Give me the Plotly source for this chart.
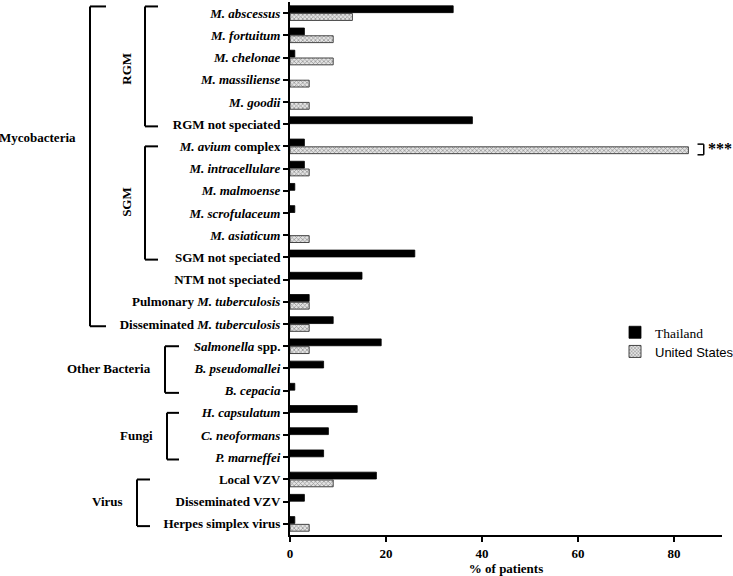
import plotly.graph_objects as go

# ---------------- data ----------------
categories = [
    "M. abscessus", "M. fortuitum", "M. chelonae", "M. massiliense", "M. goodii",
    "RGM not speciated", "M. avium complex", "M. intracellulare", "M. malmoense",
    "M. scrofulaceum", "M. asiaticum", "SGM not speciated", "NTM not speciated",
    "Pulmonary M. tuberculosis", "Disseminated M. tuberculosis", "Salmonella spp.",
    "B. pseudomallei", "B. cepacia", "H. capsulatum", "C. neoformans", "P. marneffei",
    "Local VZV", "Disseminated VZV", "Herpes simplex virus",
]
tick_labels = [
    "<i>M. abscessus</i>", "<i>M. fortuitum</i>", "<i>M. chelonae</i>",
    "<i>M. massiliense</i>", "<i>M. goodii</i>", "RGM not speciated",
    "<i>M. avium</i> complex", "<i>M. intracellulare</i>", "<i>M. malmoense</i>",
    "<i>M. scrofulaceum</i>", "<i>M. asiaticum</i>", "SGM not speciated",
    "NTM not speciated", "Pulmonary <i>M. tuberculosis</i>",
    "Disseminated <i>M. tuberculosis</i>", "<i>Salmonella</i> spp.",
    "<i>B. pseudomallei</i>", "<i>B. cepacia</i>", "<i>H. capsulatum</i>",
    "<i>C. neoformans</i>", "<i>P. marneffei</i>", "Local VZV",
    "Disseminated VZV", "Herpes simplex virus",
]
thailand = [34, 3, 1, None, None, 38, 3, 3, 1, 1, None, 26, 15, 4, 9, 19, 7, 1,
            14, 8, 7, 18, 3, 1]
united_states = [13, 9, 9, 4, 4, None, 83, 4, None, None, 4, None, None, 4, 4, 4,
                 None, None, None, None, None, 9, None, 4]
x_ticks = [0, 20, 40, 60, 80]

# bracket groups: (label, first category, last category)
groups = [
    ("Mycobacteria", "M. abscessus", "Disseminated M. tuberculosis"),
    ("RGM", "M. abscessus", "RGM not speciated"),
    ("SGM", "M. avium complex", "SGM not speciated"),
    ("Other Bacteria", "Salmonella spp.", "B. cepacia"),
    ("Fungi", "H. capsulatum", "P. marneffei"),
    ("Virus", "Local VZV", "Herpes simplex virus"),
]
significant = "M. avium complex"

# ---------------- layout / style ----------------
W, H = 733, 576
L, R, T, B = 290, 11, 2, 41
PW = W - L - R
PH = H - T - B
SERIF = "Liberation Serif, Times New Roman, serif"
SANS = "Liberation Sans, Arial, sans-serif"

def px(xp):
    return (xp - L) / PW

def py(yp):
    return (H - B - yp) / PH

# per group: vertical x(px), arm end x(px), label x(px), anchor, rotated, label y
bracket_style = {
    "Mycobacteria": dict(xv=90, xa=106, lx=78, anchor="right", rot=False, ly=5.6),
    "RGM": dict(xv=145, xa=158, lx=127, anchor="center", rot=True, ly=None),
    "SGM": dict(xv=145, xa=158, lx=127, anchor="center", rot=True, ly=None),
    "Other Bacteria": dict(xv=165, xa=179, lx=153, anchor="right", rot=False, ly=None),
    "Fungi": dict(xv=167, xa=179, lx=155, anchor="right", rot=False, ly=None),
    "Virus": dict(xv=137, xa=150, lx=125, anchor="right", rot=False, ly=None),
}

fig = go.Figure()
fig.add_trace(go.Bar(
    name="Thailand", legend="legend", showlegend=True,
    y=categories, x=thailand, orientation="h",
    marker=dict(color="black", line=dict(color="black", width=0.8)),
))
fig.add_trace(go.Bar(
    name="United States", legend="legend2", showlegend=True,
    y=categories, x=united_states, orientation="h",
    marker=dict(color="#d0d0d0", line=dict(color="#333333", width=0.9),
                pattern=dict(shape="x", fgcolor="#3a3a3a", bgcolor="#e4e4e4",
                             size=3, solidity=0.4)),
))

shapes = []
annotations = []
for name, first, last in groups:
    st = bracket_style[name]
    i0 = categories.index(first)
    i1 = categories.index(last)
    y0 = i0 - 0.3 if i0 == 0 else i0
    y1 = i1 + 0.1
    line = dict(color="black", width=2)
    shapes.append(dict(type="line", xref="paper", yref="y", x0=px(st["xv"]), x1=px(st["xv"]),
                       y0=y0, y1=y1, line=line))
    shapes.append(dict(type="line", xref="paper", yref="y", x0=px(st["xv"]), x1=px(st["xa"]),
                       y0=y0, y1=y0, line=line))
    shapes.append(dict(type="line", xref="paper", yref="y", x0=px(st["xv"]), x1=px(st["xa"]),
                       y0=y1, y1=y1, line=line))
    ly = st["ly"] if st["ly"] is not None else (i0 + i1) / 2
    annotations.append(dict(
        text=name, xref="paper", yref="y", x=px(st["lx"]), y=ly,
        xanchor=st["anchor"], yanchor="middle", showarrow=False,
        textangle=-90 if st["rot"] else 0,
        font=dict(family=SERIF, size=13, color="black", weight="bold"),
    ))

# significance bracket
si = categories.index(significant)
smax = united_states[si]
shapes += [
    dict(type="line", xref="x", yref="y", x0=smax + 3.2, x1=smax + 3.2, y0=si - 0.1, y1=si + 0.38,
         line=dict(color="black", width=1.5)),
    dict(type="line", xref="x", yref="y", x0=smax + 1.9, x1=smax + 3.2, y0=si - 0.1, y1=si - 0.1,
         line=dict(color="black", width=1.5)),
    dict(type="line", xref="x", yref="y", x0=smax + 1.9, x1=smax + 3.2, y0=si + 0.38, y1=si + 0.38,
         line=dict(color="black", width=1.5)),
]
annotations.append(dict(
    text="***", xref="x", yref="y", x=smax + 3.6, y=si + 0.1, xanchor="left", yanchor="middle",
    showarrow=False, font=dict(family=SERIF, size=16, color="black", weight="bold"),
))

legend_common = dict(xanchor="left", yanchor="top", bgcolor="rgba(0,0,0,0)", itemwidth=30)

fig.update_layout(
    width=W, height=H, showlegend=True,
    margin=dict(l=L, r=R, t=T, b=B, autoexpand=False),
    paper_bgcolor="white", plot_bgcolor="white",
    barmode="group", bargap=0.3, bargroupgap=0.12,
    shapes=shapes, annotations=annotations,
    legend=dict(x=px(615), y=py(317), font=dict(family=SERIF, size=13.5, color="black"),
                visible=True, **legend_common),
    legend2=dict(x=px(615), y=py(336.5), font=dict(family=SANS, size=13, color="black"),
                 visible=True, **legend_common),
    xaxis=dict(
        range=[0, 90], tickvals=x_ticks, showgrid=False, zeroline=False,
        showline=True, linecolor="black", linewidth=2,
        ticks="outside", ticklen=5, tickwidth=2, tickcolor="black",
        tickfont=dict(family=SERIF, size=13, color="black", weight="bold"),
        title=dict(text="% of patients", standoff=7,
                   font=dict(family=SERIF, size=13, color="black", weight="bold")),
    ),
    yaxis=dict(
        type="category", categoryorder="array", categoryarray=categories,
        range=[len(categories) - 0.5, -0.5],
        tickvals=categories, ticktext=tick_labels,
        showgrid=False, zeroline=False,
        showline=True, linecolor="black", linewidth=2,
        ticks="outside", ticklen=5, tickwidth=2, tickcolor="black",
        tickfont=dict(family=SERIF, size=13, color="black", weight="bold"),
    ),
)

fig.write_html("out.html", config={"displayModeBar": False},
               post_script="document.body.style.margin='0';")
